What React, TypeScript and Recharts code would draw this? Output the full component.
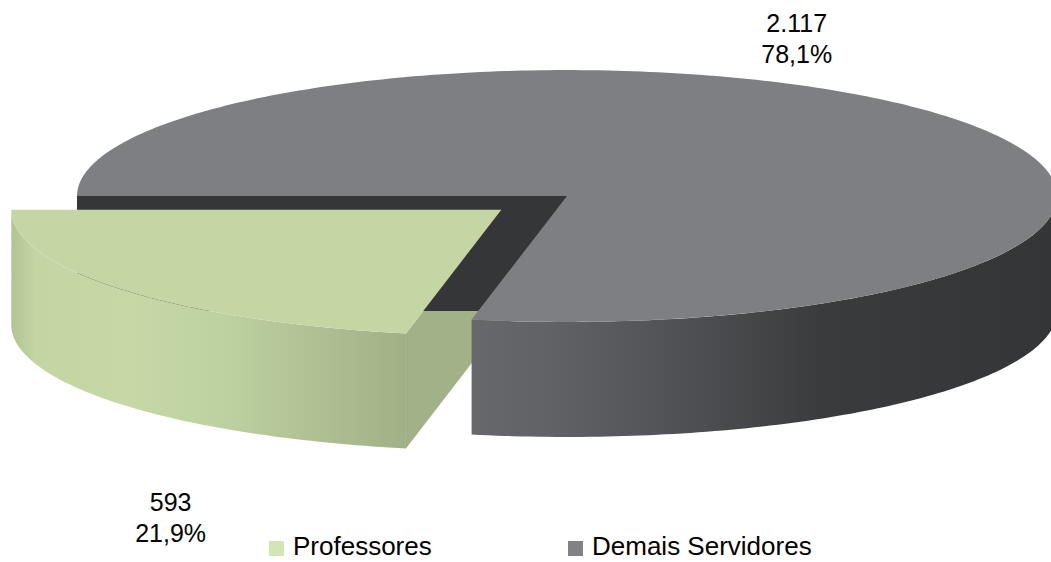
import React from 'react';
import { PieChart, Pie, Legend } from 'recharts';

const CATEGORIES = ['Professores', 'Demais Servidores'];
const VALUES = [593, 2117];
const TOP_COLORS = ['#C5D6A4', '#7D7F83'];
const SIDE_COLORS = ['#A2B187', '#353638'];
const LEGEND_COLORS = ['#D3E5B5', '#808285'];

const DATA = CATEGORIES.map((name, i) => ({ name, value: VALUES[i] }));

const WIDTH = 1051;
const HEIGHT = 562;
const CX = 567;
const CY = 196;
const RADIUS = 490;
const TILT = 0.257; // vertical squash of the pie
const DEPTH = 115;
const PULL = 85;
const PULLED = 'Professores';
const FONT = '"Liberation Sans", Arial, sans-serif';

// where the data labels sit, relative to the rim point at the middle of the slice
const LABEL_NUDGE: Record<string, [number, number]> = {
    Professores: [48, 221],
    'Demais Servidores': [-149, -84],
};

const WALL_STOPS: [number, string][][] = [
    [[0, '#B3C494'], [0.06, '#C3D5A3'], [0.3, '#C6D8A6'], [0.55, '#BDD09F'], [0.8, '#AEBE92'], [1, '#A1B186']],
    [[0, '#66686C'], [0.15, '#5F6165'], [0.38, '#4E4F52'], [0.6, '#3A3B3D'], [1, '#343537']],
];

const rad = (d: number) => (d * Math.PI) / 180;

const onRim = (cx: number, cy: number, r: number, deg: number, drop = 0): [number, number] => [
    cx + r * Math.cos(rad(deg)),
    cy - r * TILT * Math.sin(rad(deg)) + drop,
];

const rimPoints = (cx: number, cy: number, r: number, a1: number, a2: number, drop = 0) => {
    const n = Math.max(2, Math.ceil(Math.abs(a2 - a1)));
    const pts: [number, number][] = [];
    for (let k = 0; k <= n; k++) pts.push(onRim(cx, cy, r, a1 + ((a2 - a1) * k) / n, drop));
    return pts;
};

const toPath = (pts: [number, number][]) =>
    pts.map((p, i) => `${i ? 'L' : 'M'}${p[0].toFixed(2)},${p[1].toFixed(2)}`).join('') + 'Z';

const formatValue = (v: number) => String(v).replace(/\B(?=(\d{3})+(?!\d))/g, '.');
const formatPercent = (p: number) => (p * 100).toFixed(1).replace('.', ',') + '%';

function sliceGeom(props: any) {
    const { cx, cy, outerRadius, startAngle, endAngle, midAngle, index } = props;
    const name = CATEGORIES[index];
    const pull = name === PULLED ? PULL : 0;
    return {
        name,
        index,
        r: outerRadius,
        ox: cx + pull * Math.cos(rad(midAngle)),
        oy: cy - pull * TILT * Math.sin(rad(midAngle)),
        s: Math.min(startAngle, endAngle),
        e: Math.max(startAngle, endAngle),
        mid: midAngle,
    };
}

// pass 1: the cut faces that look toward the viewer
const renderFaces = (props: any) => {
    const { ox, oy, r, s, e, index } = sliceGeom(props);
    const edges: number[] = [];
    if (Math.cos(rad(s)) > 0) edges.push(s);
    if (Math.cos(rad(e)) < 0) edges.push(e);
    return (
        <g key={`face-${index}`}>
            {edges.map((a) => {
                const p = onRim(ox, oy, r, a);
                return (
                    <path
                        key={a}
                        d={toPath([[ox, oy], p, [p[0], p[1] + DEPTH], [ox, oy + DEPTH]])}
                        fill={SIDE_COLORS[index]}
                    />
                );
            })}
        </g>
    );
};

// pass 2: the outer wall on the front half of the rim
const renderWalls = (props: any) => {
    const { ox, oy, r, s, e, index } = sliceGeom(props);
    const segs: [number, number][] = [];
    for (let k = -1; k <= 2; k++) {
        const lo = Math.max(s, 180 + 360 * k);
        const hi = Math.min(e, 360 + 360 * k);
        if (hi > lo) segs.push([lo, hi]);
    }
    return (
        <g key={`wall-${index}`}>
            <defs>
                <linearGradient id={`wall-grad-${index}`} x1="0" y1="0" x2="1" y2="0">
                    {WALL_STOPS[index].map(([o, c]) => (
                        <stop key={o} offset={o} stopColor={c} />
                    ))}
                </linearGradient>
            </defs>
            {segs.map(([lo, hi]) => (
                <path
                    key={lo}
                    d={toPath([...rimPoints(ox, oy, r, lo, hi), ...rimPoints(ox, oy, r, hi, lo, DEPTH)])}
                    fill={`url(#wall-grad-${index})`}
                />
            ))}
        </g>
    );
};

// pass 3: the top faces and the data labels
const renderTops = (props: any) => {
    const { ox, oy, r, s, e, mid, index, name } = sliceGeom(props);
    const [mx, my] = onRim(ox, oy, r, mid);
    const [nx, ny] = LABEL_NUDGE[name];
    return (
        <g key={`top-${index}`}>
            <path d={toPath([[ox, oy], ...rimPoints(ox, oy, r, s, e)])} fill={TOP_COLORS[index]} />
            <text x={mx + nx} y={my + ny} textAnchor="middle" fontFamily={FONT} fontSize={25} fill="#000">
                <tspan x={mx + nx} dy={0}>{formatValue(props.value)}</tspan>
                <tspan x={mx + nx} dy={31}>{formatPercent(props.percent)}</tspan>
            </text>
        </g>
    );
};

const renderLegend = () => (
    <div style={{ display: 'flex', alignItems: 'center', paddingLeft: 269, fontFamily: FONT, fontSize: 26, lineHeight: '22px', color: '#000' }}>
        {CATEGORIES.map((c, i) => (
            <div key={c} style={{ display: 'flex', alignItems: 'center', width: 299 }}>
                <span style={{ display: 'inline-block', width: 15, height: 15, background: LEGEND_COLORS[i], marginRight: 9, marginTop: 4 }} />
                {c}
            </div>
        ))}
    </div>
);

export default function App() {
    const pieProps = {
        data: DATA,
        dataKey: 'value',
        nameKey: 'name',
        cx: CX,
        cy: CY,
        outerRadius: RADIUS,
        startAngle: 180,
        endAngle: 540,
        fill: 'none',
        stroke: 'none',
        labelLine: false,
        isAnimationActive: false,
    };
    return (
        <div style={{ position: 'fixed', left: 0, top: 0, width: WIDTH, height: HEIGHT, background: '#fff', overflow: 'hidden' }}>
            <PieChart width={WIDTH} height={HEIGHT} margin={{ top: 0, right: 0, bottom: 0, left: 0 }}>
                <Pie {...pieProps} name="faces" label={renderFaces} />
                <Pie {...pieProps} name="walls" label={renderWalls} />
                <Pie {...pieProps} name="tops" label={renderTops} />
                <Legend content={renderLegend} wrapperStyle={{ top: 535, bottom: 'auto', left: 0, width: WIDTH, height: 22 }} />
            </PieChart>
        </div>
    );
}
